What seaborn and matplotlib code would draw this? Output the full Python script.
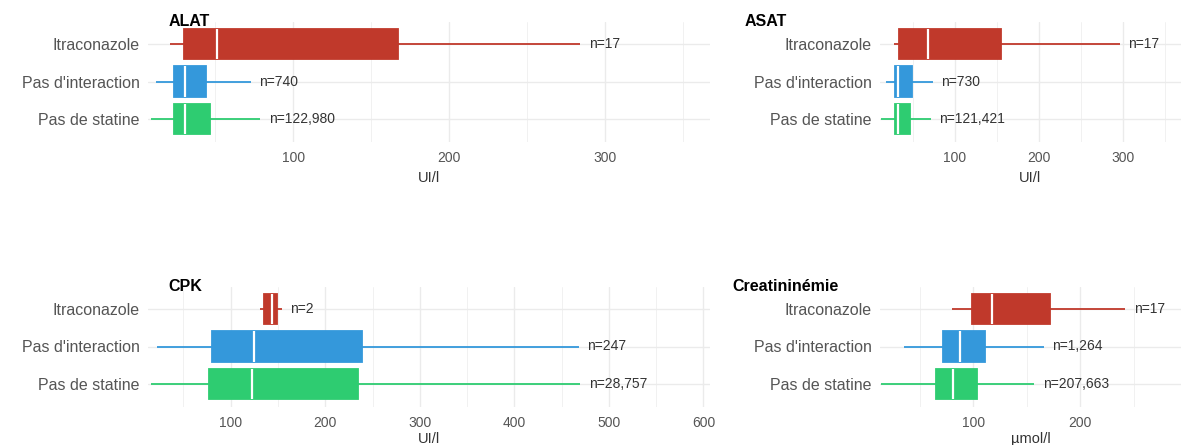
import pandas as pd
import numpy as np
import matplotlib
matplotlib.use('Agg')
import matplotlib.pyplot as plt
import seaborn as sns

# Groups and colours
groups = ["Itraconazole", "Pas d'interaction", "Pas de statine"]
colors = ["#C0392B", "#3498DB", "#2ECC71"]

# five-number summaries: [low whisker, Q1, median, Q3, high whisker]
alat = [[21, 30, 51, 167, 284], [12, 23.5, 31, 44, 73], [9, 23.5, 31, 46.5, 79]]
alat_n = ["n=17", "n=740", "n=122,980"]

asat = [[27, 33, 68, 155, 296], [17.5, 28.6, 32.5, 49, 74], [12, 28.6, 32.5, 47, 71]]
asat_n = ["n=17", "n=730", "n=121,421"]

cpk = [[131, 135, 144, 149, 154], [22, 80, 125, 239, 468], [16, 77, 123, 235, 470]]
cpk_n = ["n=2", "n=247", "n=28,757"]

creat = [[80, 99, 118, 172, 242], [35, 72, 87.5, 111, 166], [14, 65.5, 81, 104, 157]]
creat_n = ["n=17", "n=1,264", "n=207,663"]

titles = ["ALAT", "ASAT", "CPK", "Creatininémie"]
units = ["UI/l", "UI/l", "UI/l", "µmol/l"]
xlims = [(7, 367), (10.7, 369), (12.5, 607), (13, 294)]
major_ticks = [[100, 200, 300], [100, 200, 300], [100, 200, 300, 400, 500, 600], [100, 200]]

# long table: one row per summary value
rows = []
for title, stats in zip(titles, [alat, asat, cpk, creat]):
    for g, vals in zip(groups, stats):
        for v in vals:
            rows.append({"panel": title, "group": g, "value": v})
df = pd.DataFrame(rows)
n_labels = dict(zip(titles, [alat_n, asat_n, cpk_n, creat_n]))

sns.set_theme(style="whitegrid")
plt.rcParams['font.family'] = ['Liberation Sans', 'DejaVu Sans']

fig = plt.figure(figsize=(11.81, 4.45), dpi=100)
W, H = 1181, 445
rects = [
    (148 / W, 1 - 141.5 / H, 562 / W, 120 / H),
    (880 / W, 1 - 141.5 / H, 301 / W, 120 / H),
    (148 / W, 1 - 406.5 / H, 562 / W, 120 / H),
    (880 / W, 1 - 406.5 / H, 301 / W, 120 / H),
]
title_pos = [(169, 26), (745, 26), (168, 291), (732, 291)]

for i, title in enumerate(titles):
    ax = fig.add_axes(rects[i])
    sub = df[df["panel"] == title]
    for g, c in zip(groups, colors):
        sns.boxplot(data=sub[sub["group"] == g], x="value", y="group", order=groups,
                    color=c, linecolor=c, saturation=1, width=0.82, whis=(0, 100),
                    showcaps=False, linewidth=1.3, fliersize=0,
                    medianprops=dict(color="white", linewidth=1.6), ax=ax)
    # n labels at the end of the upper whisker
    for j, g in enumerate(groups):
        whi = sub[sub["group"] == g]["value"].max()
        ax.annotate(n_labels[title][j], xy=(whi, j), xytext=(6, 0),
                    textcoords="offset points", va="center", ha="left",
                    fontsize=10, color="#333333")

    ax.set_xlim(*xlims[i])
    ax.set_ylim(2.6, -0.6)
    ax.set_xticks(major_ticks[i])
    minor = np.arange(50, xlims[i][1], 100)
    ax.set_xticks(minor, minor=True)
    ax.grid(which="major", axis="both", color="#EBEBEB", linewidth=1.0)
    ax.grid(which="minor", axis="x", color="#EBEBEB", linewidth=0.5)
    ax.set_axisbelow(True)
    for s in ax.spines.values():
        s.set_visible(False)
    ax.tick_params(axis="x", which="both", length=0, pad=7, labelsize=10, labelcolor="#555555")
    ax.tick_params(axis="y", length=0, pad=6, labelsize=11.5, labelcolor="#555555")
    ax.set_ylabel("")
    ax.set_xlabel(units[i], fontsize=10.5, color="#333333", labelpad=4 if i < 2 else 1.5)
    ax.set_facecolor("white")

    tx, ty = title_pos[i]
    fig.text(tx / W, 1 - ty / H, title, fontsize=11.5, fontweight="bold",
             color="black", ha="left", va="baseline")

fig.savefig("out.png", dpi=100, facecolor="white")
